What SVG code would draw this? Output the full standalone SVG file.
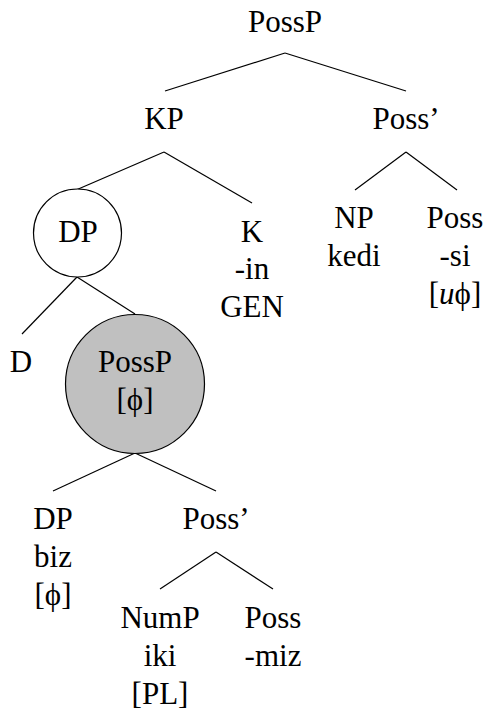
<svg xmlns="http://www.w3.org/2000/svg" width="487" height="711" viewBox="0 0 487 711">
<style>
.t{font-size:31px;fill:#000}
.e line{stroke:#000;stroke-width:1.2}
.c{stroke:#000;stroke-width:1.2}
</style>
<rect width="487" height="711" fill="#fff"/>
<g class="e" id="connectors">
<line x1="285" y1="53" x2="165" y2="91"/>
<line x1="285" y1="53" x2="406" y2="91"/>
<line x1="164" y1="152" x2="76" y2="190"/>
<line x1="164" y1="152" x2="252" y2="203"/>
<line x1="406" y1="152" x2="355" y2="190"/>
<line x1="406" y1="152" x2="457" y2="190"/>
<line x1="77" y1="277" x2="22" y2="334"/>
<line x1="77" y1="277" x2="135" y2="314"/>
<line x1="135" y1="453" x2="53" y2="491"/>
<line x1="135" y1="453" x2="216" y2="491"/>
<line x1="216" y1="552" x2="160" y2="589"/>
<line x1="216" y1="552" x2="273" y2="589"/>
</g>
<g id="n-possp-top"><text class="t" font-family="Liberation Serif, serif" text-anchor="middle" x="285" y="32">PossP</text></g>
<g id="n-kp"><text class="t" font-family="Liberation Serif, serif" text-anchor="middle" x="164" y="129">KP</text></g>
<g id="n-possbar-top"><text class="t" font-family="Liberation Serif, serif" text-anchor="middle" x="406" y="129">Poss’</text></g>
<g id="n-dp"><circle class="c" cx="77.5" cy="233" r="44" fill="#fff"/><text class="t" font-family="Liberation Serif, serif" text-anchor="middle" x="78" y="242">DP</text></g>
<g id="n-k"><text class="t" font-family="Liberation Serif, serif" text-anchor="middle" x="252" y="242">K</text><text class="t" font-family="Liberation Serif, serif" text-anchor="middle" x="252" y="279">-in</text><text class="t" font-family="Liberation Serif, serif" text-anchor="middle" x="252" y="317">GEN</text></g>
<g id="n-np"><text class="t" font-family="Liberation Serif, serif" text-anchor="middle" x="354" y="228">NP</text><text class="t" font-family="Liberation Serif, serif" text-anchor="middle" x="354" y="266">kedi</text></g>
<g id="n-poss-top"><text class="t" font-family="Liberation Serif, serif" text-anchor="middle" x="455" y="228">Poss</text><text class="t" font-family="Liberation Serif, serif" text-anchor="middle" x="455" y="266">-si</text><text class="t" font-family="Liberation Serif, serif" text-anchor="middle" x="455" y="304">[<tspan font-style="italic">u</tspan>ϕ]</text></g>
<g id="n-d"><text class="t" font-family="Liberation Serif, serif" text-anchor="middle" x="21" y="372">D</text></g>
<g id="n-possp-gray"><circle class="c" cx="135" cy="384" r="69.5" fill="#c0c0c0"/><text class="t" font-family="Liberation Serif, serif" text-anchor="middle" x="135" y="372">PossP</text><text class="t" font-family="Liberation Serif, serif" text-anchor="middle" x="135" y="410">[ϕ]</text></g>
<g id="n-dp-biz"><text class="t" font-family="Liberation Serif, serif" text-anchor="middle" x="53" y="529">DP</text><text class="t" font-family="Liberation Serif, serif" text-anchor="middle" x="53" y="567">biz</text><text class="t" font-family="Liberation Serif, serif" text-anchor="middle" x="53" y="605">[ϕ]</text></g>
<g id="n-possbar-low"><text class="t" font-family="Liberation Serif, serif" text-anchor="middle" x="216" y="529">Poss’</text></g>
<g id="n-nump"><text class="t" font-family="Liberation Serif, serif" text-anchor="middle" x="160" y="628">NumP</text><text class="t" font-family="Liberation Serif, serif" text-anchor="middle" x="160" y="666">iki</text><text class="t" font-family="Liberation Serif, serif" text-anchor="middle" x="160" y="704">[PL]</text></g>
<g id="n-poss-low"><text class="t" font-family="Liberation Serif, serif" text-anchor="middle" x="273" y="628">Poss</text><text class="t" font-family="Liberation Serif, serif" text-anchor="middle" x="273" y="666">-miz</text></g>
</svg>
